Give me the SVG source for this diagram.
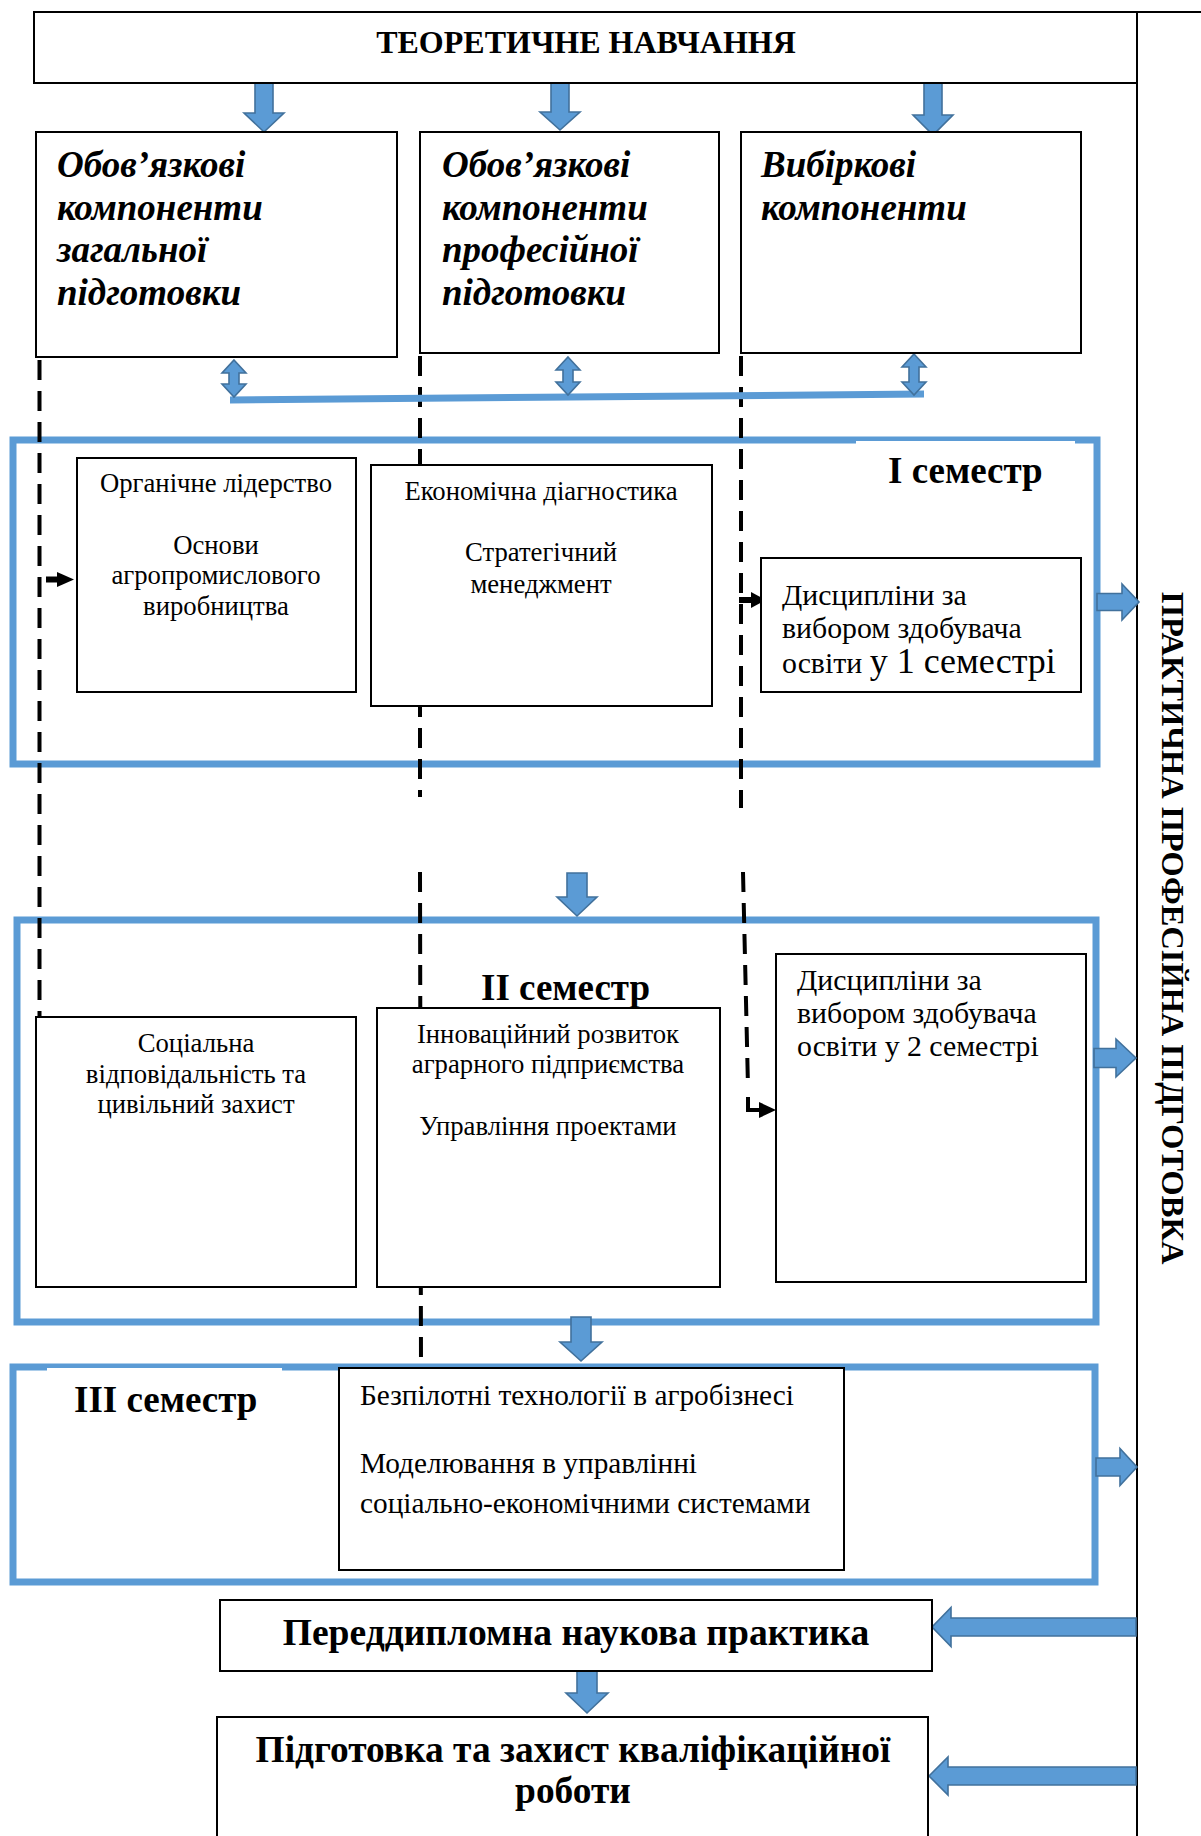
<svg xmlns="http://www.w3.org/2000/svg" width="1201" height="1836" viewBox="0 0 1201 1836">
<style>
.bx{fill:#fff;stroke:#000;stroke-width:2}
.sem{fill:none;stroke:#5b9bd5;stroke-width:7}
.ba{fill:#5b9bd5;stroke:#41719c;stroke-width:1.6;stroke-linejoin:miter}
.dash{fill:none;stroke:#000;stroke-width:4;stroke-dasharray:20 11}
.ln{fill:none;stroke:#000;stroke-width:2}
.t{font-family:"Liberation Serif","Times New Roman",serif;fill:#000}
.h{font-family:"Liberation Serif","Times New Roman",serif;font-weight:bold;font-style:italic;font-size:37px;fill:#000}
.b{font-family:"Liberation Serif","Times New Roman",serif;font-weight:bold;fill:#000}
.s25{font-size:26.7px}
.s26{font-size:29.3px}
.s28{font-size:29.8px}
.m{text-anchor:middle}
</style>
<rect width="1201" height="1836" fill="#fff"/>

<!-- semester frames -->
<g id="semester1">
<rect class="sem" x="13" y="440" width="1084" height="324"/>
<rect x="856" y="441" width="219" height="40" fill="#fff"/>
<text class="b" x="888" y="483" font-size="37">I семестр</text>
</g>
<g id="semester2">
<rect class="sem" x="17" y="920" width="1079" height="402"/>
</g>
<g id="semester3">
<rect class="sem" x="13" y="1367" width="1082" height="215"/>
<rect x="47" y="1368" width="235" height="30" fill="#fff"/>
<text class="b" x="74" y="1412" font-size="37">III семестр</text>
</g>

<!-- connectors -->
<g id="connectors">
<line class="ln" x1="34" y1="12" x2="1201" y2="12"/>
<line class="ln" x1="1137" y1="12" x2="1137" y2="1836"/>
<path class="dash" d="M39.5,360 L39.5,1017"/>
<path class="dash" d="M420,356 L420,797"/>
<path class="dash" d="M420,872 L421,1368"/>
<path class="dash" d="M741,356 L741,808"/>
<path class="dash" d="M743,872 L748,1087"/>
<path fill="none" stroke="#000" stroke-width="4" d="M748,1097 L748,1110 L760,1110"/>
<line stroke="#000" stroke-width="6" x1="46" y1="579.5" x2="58" y2="579.5"/>
<polygon points="57,572 74,579.5 57,587" fill="#000"/>
<line stroke="#000" stroke-width="6" x1="739" y1="600" x2="752" y2="600"/>
<polygon points="751,592 766,600 751,608" fill="#000"/>
<polygon points="759,1102 776,1110 759,1118" fill="#000"/>
<line stroke="#5b9bd5" stroke-width="7" x1="230" y1="400" x2="924" y2="394"/>
<path class="ba" d="M234,360 L246,373 L239,373 L239,384 L246,384 L234,397 L222,384 L229,384 L229,373 L222,373 Z"/>
<path class="ba" d="M568,357 L580,370 L573,370 L573,382 L580,382 L568,395 L556,382 L563,382 L563,370 L556,370 Z"/>
<path class="ba" d="M914,354 L926,367 L919,367 L919,382 L926,382 L914,395 L902,382 L909,382 L909,367 L902,367 Z"/>
<path class="ba" d="M255,83 L273,83 L273,113 L284,113 L264,132 L244,113 L255,113 Z"/>
<path class="ba" d="M551,82 L569,82 L569,112 L580,112 L560,130 L540,112 L551,112 Z"/>
<path class="ba" d="M924,83 L942,83 L942,115 L953,115 L933,135 L913,115 L924,115 Z"/>
<path class="ba" d="M567,873 L587,873 L587,897 L597,897 L577,916 L557,897 L567,897 Z"/>
<path class="ba" d="M571,1317 L591,1317 L591,1342 L602,1342 L581,1361 L560,1342 L571,1342 Z"/>
<path class="ba" d="M577,1670 L597,1670 L597,1693 L608,1693 L587,1713 L566,1693 L577,1693 Z"/>
<path class="ba" d="M1097,593.5 L1122,593.5 L1122,584 L1139,602 L1122,620 L1122,610.5 L1097,610.5 Z"/>
<path class="ba" d="M1094,1048.5 L1116,1048.5 L1116,1039 L1136,1058 L1116,1077 L1116,1067.5 L1094,1067.5 Z"/>
<path class="ba" d="M1096,1458 L1120,1458 L1120,1448.5 L1137,1467 L1120,1485.5 L1120,1476 L1096,1476 Z"/>
<path class="ba" d="M1136,1618 L951,1618 L951,1607.5 L932,1627 L951,1646.5 L951,1636 L1136,1636 Z"/>
<path class="ba" d="M1136,1767 L948,1767 L948,1757 L929,1776 L948,1795 L948,1785 L1136,1785 Z"/>
</g>

<g id="theory">
<rect class="bx" x="34" y="12" width="1103" height="71"/>
<text class="b m" x="586" y="53" font-size="32">ТЕОРЕТИЧНЕ НАВЧАННЯ</text>
</g>
<g id="general">
<rect class="bx" x="36" y="132" width="361" height="225"/>
<text class="h" x="57" y="177">Обов’язкові</text>
<text class="h" x="57" y="220">компоненти</text>
<text class="h" x="57" y="262">загальної</text>
<text class="h" x="57" y="305">підготовки</text>
</g>
<g id="professional">
<rect class="bx" x="420" y="132" width="299" height="221"/>
<text class="h" x="442" y="177">Обов’язкові</text>
<text class="h" x="442" y="220">компоненти</text>
<text class="h" x="442" y="262">професійної</text>
<text class="h" x="442" y="305">підготовки</text>
</g>
<g id="elective">
<rect class="bx" x="741" y="132" width="340" height="221"/>
<text class="h" x="761" y="177">Вибіркові</text>
<text class="h" x="761" y="220">компоненти</text>
</g>

<g id="s1-general">
<rect class="bx" x="77" y="458" width="279" height="234"/>
<text class="t s25 m" x="216" y="492">Органічне лідерство</text>
<text class="t s25 m" x="216" y="554">Основи</text>
<text class="t s25 m" x="216" y="584">агропромислового</text>
<text class="t s25 m" x="216" y="615">виробництва</text>
</g>
<g id="s1-professional">
<rect class="bx" x="371" y="465" width="341" height="241"/>
<text class="t s25 m" x="541" y="500">Економічна діагностика</text>
<text class="t s25 m" x="541" y="561">Стратегічний</text>
<text class="t s25 m" x="541" y="593">менеджмент</text>
</g>
<g id="s1-elective">
<rect class="bx" x="761" y="558" width="320" height="134"/>
<text class="t s28" x="782" y="605">Дисципліни за</text>
<text class="t s28" x="782" y="638">вибором здобувача</text>
<text class="t s28" x="782" y="673">освіти <tspan font-size="36">у 1 семестрі</tspan></text>
</g>

<text class="b" x="481" y="1000" font-size="37">II семестр</text>
<g id="s2-general">
<rect class="bx" x="36" y="1017" width="320" height="270"/>
<text class="t s25 m" x="196" y="1052">Соціальна</text>
<text class="t s25 m" x="196" y="1083">відповідальність та</text>
<text class="t s25 m" x="196" y="1113">цивільний захист</text>
</g>
<g id="s2-professional">
<rect class="bx" x="377" y="1008" width="343" height="279"/>
<text class="t s25 m" x="548" y="1043">Інноваційний розвиток</text>
<text class="t s25 m" x="548" y="1073">аграрного підприємства</text>
<text class="t s25 m" x="548" y="1135">Управління проектами</text>
</g>
<g id="s2-elective">
<rect class="bx" x="776" y="954" width="310" height="328"/>
<text class="t s28" x="797" y="990">Дисципліни за</text>
<text class="t s28" x="797" y="1023">вибором здобувача</text>
<text class="t s28" x="797" y="1056">освіти у 2 семестрі</text>
</g>

<g id="s3-professional">
<rect class="bx" x="339" y="1368" width="505" height="202"/>
<text class="t s26" x="360" y="1405">Безпілотні технології в агробізнесі</text>
<text class="t s26" x="360" y="1473">Моделювання в управлінні</text>
<text class="t s26" x="360" y="1513">соціально-економічними системами</text>
</g>

<g id="practice">
<rect class="bx" x="220" y="1600" width="712" height="71"/>
<text class="b m" x="576" y="1645" font-size="37.6">Переддипломна наукова практика</text>
</g>
<g id="thesis">
<path class="bx" d="M217,1840 L217,1717 L928,1717 L928,1840"/>
<text class="b m" x="573" y="1762" font-size="37.4">Підготовка та захист кваліфікаційної</text>
<text class="b m" x="573" y="1803" font-size="37.4">роботи</text>
</g>

<g id="practical-training">
<text class="b m" font-size="32.4" transform="translate(1162,928) rotate(90)">ПРАКТИЧНА ПРОФЕСІЙНА ПІДГОТОВКА</text>
</g>
</svg>
